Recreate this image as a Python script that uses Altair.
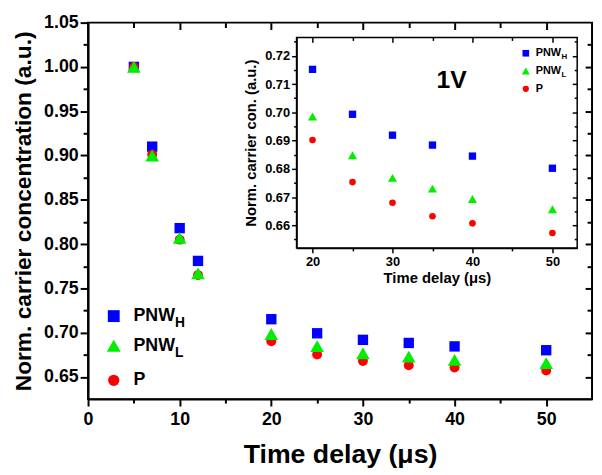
import altair as alt
import pandas as pd

# ---------------- data ----------------
time_us = [5, 7, 10, 12, 20, 25, 30, 35, 40, 50]
pnw_h = [1.000, 0.910, 0.818, 0.781, 0.7152, 0.6993, 0.6919, 0.6884, 0.6845, 0.6802]
pnw_l = [1.000, 0.900, 0.807, 0.767, 0.6985, 0.6848, 0.6768, 0.6730, 0.6693, 0.6657]
p_vals = [1.000, 0.901, 0.805, 0.765, 0.6902, 0.6753, 0.6680, 0.6632, 0.6607, 0.6573]

series_keys = ["H", "P", "L"]          # drawing order: square, circle, triangle
series_main = {"H": "PNW", "L": "PNW", "P": "P"}
series_sub = {"H": "H", "L": "L", "P": ""}
series_color = {"H": "#0000ff", "L": "#00ee00", "P": "#ff0000"}
series_shape = {"H": "square", "L": "triangle-up", "P": "circle"}

main_x_ticks = [0, 5, 10, 15, 20, 25, 30, 35, 40, 45, 50]
main_y_ticks = [0.65, 0.675, 0.70, 0.725, 0.75, 0.775, 0.80, 0.825, 0.85,
                0.875, 0.90, 0.925, 0.95, 0.975, 1.00, 1.025, 1.05]
inset_x_ticks = [20, 25, 30, 35, 40, 45, 50]
inset_y_ticks = [0.655, 0.66, 0.665, 0.67, 0.675, 0.68, 0.685, 0.69, 0.695,
                 0.70, 0.705, 0.71, 0.715, 0.72, 0.725]
inset_start = 20

df = pd.DataFrame({
    "t": time_us * 3,
    "v": pnw_h + pnw_l + p_vals,
    "s": ["H"] * len(time_us) + ["L"] * len(time_us) + ["P"] * len(time_us),
})
df_inset = df[df["t"] >= inset_start].reset_index(drop=True)
one = pd.DataFrame({"a": [0]})

# ---------------- layout ----------------
FONT = "Liberation Sans"
W, H = 510, 381
IN_L, IN_R, IN_T, IN_B = 211, 495, 15, 228   # inset frame within plot area

main_xs = alt.Scale(domain=[0, 55], nice=False, zero=False)
main_ys = alt.Scale(domain=[0.625, 1.05], nice=False, zero=False)
in_xs = alt.Scale(domain=[18, 53.1], nice=False, zero=False, range=[IN_L, IN_R])
in_ys = alt.Scale(domain=[0.652, 0.7265], nice=False, zero=False, range=[IN_B, IN_T])


def mm(test_minor, major, minor):
    return {"condition": {"test": test_minor, "value": minor}, "value": major}


common = dict(grid=False, tickColor="black", domainColor="black", labelColor="black",
              titleColor="black", labelFont=FONT, titleFont=FONT,
              labelFontWeight="bold", titleFontWeight="bold", labelFlush=False,
              labelOverlap=False, labelBound=False)

ax_mx = alt.Axis(orient="bottom", values=main_x_ticks, format="d",
                 labelExpr="datum.value % 10 == 0 ? datum.label : ''",
                 tickSize=mm("datum.value % 10 != 0", 7, 4), tickWidth=2, domainWidth=2,
                 labelFontSize=18, labelPadding=5,
                 title="Time delay (μs)", titleFontSize=27, titlePadding=13, **common)
ax_my = alt.Axis(orient="left", values=main_y_ticks, format=".2f",
                 labelExpr="round(datum.value*1000) % 50 == 0 ? datum.label : ''",
                 tickSize=mm("round(datum.value*1000) % 50 != 0", 8, 5), tickWidth=2, domainWidth=2,
                 labelFontSize=18, labelPadding=2,
                 title="Norm. carrier concentration (a.u.)", titleFontSize=23, titlePadding=8, **common)


def mirror(scale_x, scale_y, xvals, yvals, size, off_x, off_y, width, data):
    return alt.Chart(data).mark_point(opacity=0).encode(
        x=alt.X("t:Q", scale=scale_x,
                axis=alt.Axis(orient="top", values=xvals, labels=False, domain=False, title=None,
                              tickSize=size, offset=off_x - size, tickWidth=width, zindex=1, **common)),
        y=alt.Y("v:Q", scale=scale_y,
                axis=alt.Axis(orient="right", values=yvals, labels=False, domain=False, title=None,
                              tickSize=size, offset=off_y - size, tickWidth=width, zindex=1, **common)),
    )


# ---------------- main panel ----------------
main_base = alt.Chart(df).encode(
    x=alt.X("t:Q", scale=main_xs, axis=ax_mx),
    y=alt.Y("v:Q", scale=main_ys, axis=ax_my),
)
main_sizes = {"H": 110, "L": 190, "P": 100}
main_pts = alt.layer(*[
    main_base.transform_filter(alt.datum.s == k).mark_point(
        shape=series_shape[k], filled=True, opacity=1, size=main_sizes[k],
        color=series_color[k], strokeWidth=0)
    for k in series_keys
])

mirror_major = mirror(main_xs, main_ys, [10, 20, 30, 40, 50],
                      [0.65, 0.70, 0.75, 0.80, 0.85, 0.90, 0.95, 1.00], 7, 0, 0, 2, df)
mirror_minor = mirror(main_xs, main_ys, [5, 15, 25, 35, 45],
                      [0.675, 0.725, 0.775, 0.825, 0.875, 0.925, 0.975, 1.025], 5, 0, 0, 2, df)

# main legend
leg_main = []
leg_sizes = {"H": 144, "L": 200, "P": 130}
leg_rows = {"H": 297, "L": 327, "P": 362}
for k in ["H", "L", "P"]:
    yk = leg_rows[k]
    leg_main.append(alt.Chart(one).mark_point(
        shape=series_shape[k], filled=True, opacity=1, size=leg_sizes[k],
        color=series_color[k], strokeWidth=0).encode(x=alt.value(26), y=alt.value(yk)))
    leg_main.append(alt.Chart(one).mark_text(
        text=series_main[k], align="left", baseline="middle", font=FONT, fontSize=18,
        fontWeight="bold", color="black").encode(x=alt.value(46), y=alt.value(yk)))
    if series_sub[k]:
        leg_main.append(alt.Chart(one).mark_text(
            text=series_sub[k], align="left", baseline="middle", font=FONT, fontSize=14,
            fontWeight="bold", color="black").encode(x=alt.value(88), y=alt.value(yk + 7)))

main_layer = alt.layer(main_pts, mirror_major, mirror_minor, *leg_main).resolve_axis(
    x="independent", y="independent")

# ---------------- inset panel ----------------
common_in = dict(common)
ax_ix = alt.Axis(orient="bottom", values=inset_x_ticks, format="d",
                 labelExpr="datum.value % 10 == 0 ? datum.label : ''",
                 tickSize=mm("datum.value % 10 != 0", 5, 3), tickWidth=1.5, domainWidth=1.5,
                 offset=-(H - IN_B), zindex=1,
                 labelFontSize=13, labelPadding=3,
                 title="Time delay (μs)", titleFontSize=15, titlePadding=2, **common_in)
ax_iy = alt.Axis(orient="left", values=inset_y_ticks, format=".2f",
                 labelExpr="round(datum.value*1000) % 10 == 0 ? datum.label : ''",
                 tickSize=mm("round(datum.value*1000) % 10 != 0", 5, 3), tickWidth=1.5, domainWidth=1.5,
                 offset=-IN_L, zindex=1,
                 labelFontSize=13, labelPadding=2,
                 title="Norm. carrier con. (a.u.)", titleFontSize=15, titlePadding=6, **common_in)

frame = alt.Chart(one).mark_rect(fill="white", stroke="black", strokeWidth=1.5).encode(
    x=alt.value(IN_L), x2=alt.value(IN_R), y=alt.value(IN_T), y2=alt.value(IN_B))

in_base = alt.Chart(df_inset).encode(
    x=alt.X("t:Q", scale=in_xs, axis=ax_ix),
    y=alt.Y("v:Q", scale=in_ys, axis=ax_iy),
)
in_sizes = {"H": 55, "L": 85, "P": 45}
in_pts = alt.layer(*[
    in_base.transform_filter(alt.datum.s == k).mark_point(
        shape=series_shape[k], filled=True, opacity=1, size=in_sizes[k],
        color=series_color[k], strokeWidth=0)
    for k in series_keys
])

in_mirror_major = mirror(in_xs, in_ys, [20, 30, 40, 50],
                         [0.66, 0.67, 0.68, 0.69, 0.70, 0.71, 0.72], 5,
                         -IN_T, -(W - IN_R), 1.5, df_inset)
in_mirror_minor = mirror(in_xs, in_ys, [25, 35, 45],
                         [0.655, 0.665, 0.675, 0.685, 0.695, 0.705, 0.715, 0.725], 3,
                         -IN_T, -(W - IN_R), 1.5, df_inset)

label_1v = alt.Chart(one).mark_text(
    text="1V", align="center", baseline="middle", font=FONT, fontSize=25,
    fontWeight="bold", color="black").encode(x=alt.value(368), y=alt.value(58))

leg_in = []
leg_in_sizes = {"H": 45, "L": 65, "P": 40}
leg_in_rows = {"H": 31, "L": 49, "P": 67}
for k in ["H", "L", "P"]:
    yk = leg_in_rows[k]
    leg_in.append(alt.Chart(one).mark_point(
        shape=series_shape[k], filled=True, opacity=1, size=leg_in_sizes[k],
        color=series_color[k], strokeWidth=0).encode(x=alt.value(443), y=alt.value(yk)))
    leg_in.append(alt.Chart(one).mark_text(
        text=series_main[k], align="left", baseline="middle", font=FONT, fontSize=11,
        fontWeight="bold", color="black").encode(x=alt.value(453), y=alt.value(yk)))
    if series_sub[k]:
        leg_in.append(alt.Chart(one).mark_text(
            text=series_sub[k], align="left", baseline="middle", font=FONT, fontSize=8,
            fontWeight="bold", color="black").encode(x=alt.value(479), y=alt.value(yk + 4)))

inset_layer = alt.layer(frame, in_pts, in_mirror_major, in_mirror_minor, label_1v, *leg_in).resolve_axis(
    x="independent", y="independent")

chart = alt.layer(main_layer, inset_layer).resolve_scale(
    x="independent", y="independent").resolve_axis(x="independent", y="independent").properties(
    width=W, height=H,
    autosize=alt.AutoSizeParams(type="none"),
    padding={"left": 81, "top": 12, "right": 2, "bottom": 74},
    background="white",
).configure_view(stroke="black", strokeWidth=2)

chart.save("out.html", embed_options={"renderer": "svg", "actions": False})
